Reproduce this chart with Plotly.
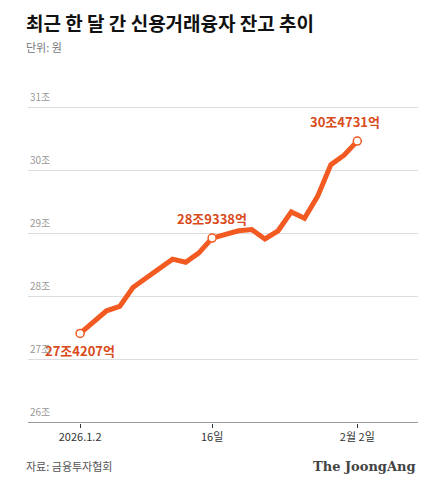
import plotly.graph_objects as go

dates = ["1.2","1.5","1.6","1.7","1.8","1.9","1.12","1.13","1.14","1.15","1.16","1.19","1.20","1.21","1.22","1.23","1.26","1.27","1.28","1.29","1.30","2.2"]
values = [27.4207,27.6,27.78,27.85,28.15,28.3,28.45,28.6,28.55,28.7,28.9338,29.0,29.05,29.07,28.92,29.05,29.35,29.25,29.6,30.1,30.25,30.4731]
tick_idx = [0,10,21]
tick_text = ["2026.1.2","16일","2월 2일"]
y_ticks = [26,27,28,29,30,31]
labels = {0:"27조4207억",10:"28조9338억",21:"30조4731억"}

x = list(range(len(values)))
font = "Noto Sans CJK KR"
orange = "#f25a22"
fig = go.Figure()
fig.add_trace(go.Scatter(x=x, y=values, mode="lines", line=dict(color=orange, width=5), hoverinfo="skip"))
mi = list(labels)
fig.add_trace(go.Scatter(x=mi, y=[values[i] for i in mi], mode="markers",
    marker=dict(color="white", size=8, line=dict(color=orange, width=1.5)), hoverinfo="skip"))

ann = []
for i, t in labels.items():
    ann.append(dict(x=i, y=values[i], text="<b>"+t+"</b>", showarrow=False,
        xanchor="center", yanchor="bottom" if i else "top",
        yshift=8 if i else -6, xshift=0 if i!=21 else -12,
        font=dict(family=font, size=13, color="#d94a1a")))
for v in y_ticks:
    ann.append(dict(xref="paper", x=0, y=v, text=f"{v}조", showarrow=False,
        xanchor="left", yanchor="bottom", yshift=2,
        font=dict(family=font, size=10, color="#999")))
ann += [
    dict(xref="paper", yref="paper", x=-0.01, y=1.245, text="<b>최근 한 달 간 신용거래융자 잔고 추이</b>",
         showarrow=False, xanchor="left", font=dict(family=font, size=19, color="#111")),
    dict(xref="paper", yref="paper", x=-0.01, y=1.155, text="단위: 원", showarrow=False,
         xanchor="left", font=dict(family=font, size=11, color="#777")),
    dict(xref="paper", yref="paper", x=-0.01, y=-0.16, text="자료: 금융투자협회", showarrow=False,
         xanchor="left", font=dict(family=font, size=11, color="#555")),
    dict(xref="paper", yref="paper", x=1.0, y=-0.16, text="<b>The JoongAng</b>", showarrow=False,
         xanchor="right", font=dict(family="DejaVu Serif", size=13, color="#444")),
]

fig.update_layout(
    width=427, height=494, margin=dict(l=20, r=17, t=81, b=79),
    paper_bgcolor="white", plot_bgcolor="white", showlegend=False,
    annotations=ann,
    xaxis=dict(range=[-3.95, 25.6], tickvals=tick_idx, ticktext=tick_text, showgrid=False,
               zeroline=False, ticks="outside", ticklen=4, tickcolor="#333",
               tickfont=dict(family=font, size=11, color="#333")),
    yaxis=dict(range=[26, 31.3], tickvals=y_ticks, showticklabels=False, gridcolor="#ddd",
               zeroline=False, showline=False),
    shapes=[dict(type="line", xref="paper", yref="y", x0=0, x1=1, y0=26, y1=26,
                 line=dict(color="#333", width=1))],
)
fig.write_html("out.html")
